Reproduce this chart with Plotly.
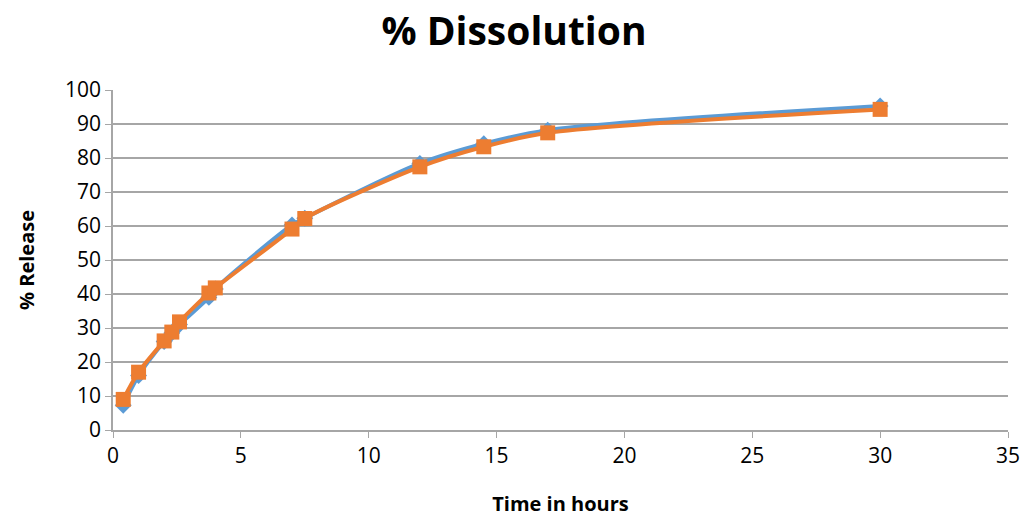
import plotly.graph_objects as go

# Sampling times (hours) and cumulative release (%) for the two batches
time_hours = [0.4, 1, 2, 2.3, 2.6, 3.75, 4, 7, 7.5, 12, 14.5, 17, 30]
release_a = [7.3, 16, 26, 28.5, 31, 39, 41.5, 60.3, 62.3, 78.4, 84.2, 88.2, 95.3]
release_b = [9, 17, 26.2, 28.8, 31.8, 40.3, 41.8, 59.1, 62.2, 77.4, 83.3, 87.4, 94.3]

x_ticks = [0, 5, 10, 15, 20, 25, 30, 35]
y_ticks = [0, 10, 20, 30, 40, 50, 60, 70, 80, 90, 100]

BLUE = "#5B9BD5"
ORANGE = "#ED7D31"
AXIS_GREY = "#A6A6A6"
FONT = "Open Sans"

fig = go.Figure()
fig.add_trace(go.Scatter(
    x=time_hours, y=release_a, mode="lines+markers",
    line=dict(color=BLUE, width=4, shape="spline", smoothing=0.8),
    marker=dict(symbol="diamond", size=13, color=BLUE),
    showlegend=False,
))
fig.add_trace(go.Scatter(
    x=time_hours, y=release_b, mode="lines+markers",
    line=dict(color=ORANGE, width=4, shape="spline", smoothing=0.8),
    marker=dict(symbol="square", size=15, color=ORANGE),
    showlegend=False,
))

fig.update_layout(
    width=1028, height=520,
    margin=dict(l=113, r=20, t=90, b=90),
    paper_bgcolor="white", plot_bgcolor="white",
    font=dict(family=FONT, color="#000000"),
    title=dict(text="<b>% Dissolution</b>", x=0.5, xanchor="center",
               y=0.94, yanchor="middle",
               font=dict(family=FONT, size=39, color="#000000")),
    xaxis=dict(
        range=[0, 35], tickvals=x_ticks, showgrid=False, automargin=False,
        showline=True, linecolor=AXIS_GREY, linewidth=1.5,
        ticks="outside", ticklen=6, tickcolor=AXIS_GREY,
        tickfont=dict(family=FONT, size=21), zeroline=False,
        title=dict(text="<b>Time in hours</b>", standoff=29,
                   font=dict(family=FONT, size=20)),
    ),
    yaxis=dict(
        range=[0, 100], tickvals=y_ticks, showgrid=True, automargin=False,
        gridcolor=AXIS_GREY, gridwidth=1.5,
        showline=True, linecolor=AXIS_GREY, linewidth=1.5,
        ticks="outside", ticklen=6, tickcolor=AXIS_GREY,
        tickfont=dict(family=FONT, size=21), zeroline=False,
        title=dict(text="<b>% Release</b>", standoff=25,
                   font=dict(family=FONT, size=20)),
    ),
)

fig.write_html("out.html")
